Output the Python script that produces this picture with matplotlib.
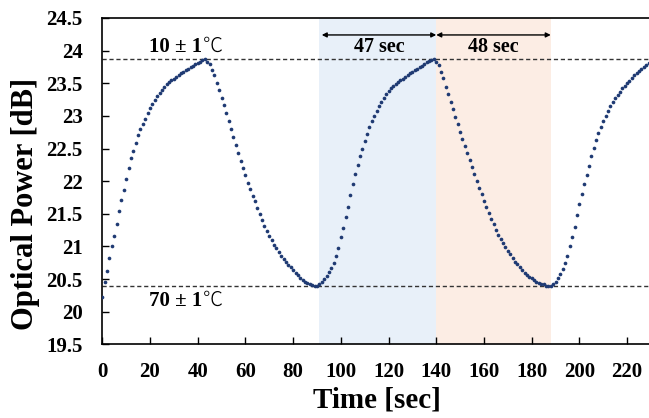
import matplotlib
matplotlib.use("Agg")
import matplotlib.pyplot as plt

# ---- data (1 s sampling) ----
time_s = list(range(0, 230))
power_db = [
    # 0-43 rising
    20.23, 20.45, 20.63, 20.82, 21.00, 21.16, 21.34, 21.54, 21.71, 21.87,
    22.03, 22.20, 22.35, 22.46, 22.59, 22.71, 22.80, 22.88, 22.96, 23.05,
    23.12, 23.18, 23.25, 23.30, 23.35, 23.40, 23.45, 23.49, 23.52, 23.55,
    23.57, 23.60, 23.62, 23.65, 23.67, 23.70, 23.72, 23.75, 23.77, 23.79,
    23.81, 23.83, 23.85, 23.87,
    # 44-90 falling
    23.83, 23.79, 23.71, 23.62, 23.51, 23.40, 23.28, 23.16, 23.04, 22.92,
    22.80, 22.67, 22.55, 22.43, 22.31, 22.20, 22.09, 21.98, 21.88, 21.78,
    21.69, 21.59, 21.50, 21.41, 21.32, 21.24, 21.16, 21.10, 21.03, 20.97,
    20.91, 20.86, 20.81, 20.77, 20.72, 20.68, 20.64, 20.60, 20.56, 20.52,
    20.49, 20.46, 20.44, 20.42, 20.41, 20.40, 20.39,
    # 91-139 rising
    20.42, 20.46, 20.50, 20.55, 20.61, 20.67, 20.75, 20.86, 20.97, 21.14,
    21.28, 21.45, 21.61, 21.79, 21.96, 22.11, 22.25, 22.38, 22.49, 22.61,
    22.72, 22.83, 22.92, 23.00, 23.07, 23.15, 23.22, 23.28, 23.34, 23.38,
    23.42, 23.46, 23.49, 23.52, 23.55, 23.57, 23.60, 23.62, 23.65, 23.67,
    23.70, 23.72, 23.75, 23.77, 23.80, 23.82, 23.84, 23.86, 23.87,
    # 140-188 falling
    23.83, 23.78, 23.68, 23.58, 23.45, 23.33, 23.21, 23.10, 22.98, 22.87,
    22.76, 22.65, 22.54, 22.43, 22.33, 22.22, 22.11, 22.01, 21.90, 21.80,
    21.70, 21.60, 21.51, 21.42, 21.34, 21.26, 21.18, 21.11, 21.05, 20.99,
    20.93, 20.88, 20.82, 20.77, 20.73, 20.68, 20.64, 20.60, 20.57, 20.54,
    20.51, 20.48, 20.46, 20.44, 20.43, 20.42, 20.40, 20.39, 20.39,
    # 189-229 rising
    20.42, 20.46, 20.51, 20.58, 20.65, 20.74, 20.86, 21.00, 21.15, 21.30,
    21.48, 21.65, 21.80, 21.95, 22.10, 22.24, 22.38, 22.51, 22.63, 22.74,
    22.83, 22.92, 23.00, 23.08, 23.15, 23.21, 23.27, 23.32, 23.37, 23.42,
    23.46, 23.50, 23.54, 23.58, 23.62, 23.66, 23.69, 23.72, 23.75, 23.78,
    23.81,
]

level_high = 23.87
level_low = 20.39
label_high = "10 ± 1"
label_low = "70 ± 1"
unit_sign = "℃"
span_blue = (91, 140)
span_orange = (140, 188)
span_labels = ["47 sec", "48 sec"]
x_ticks = list(range(0, 221, 20))
y_ticks = [19.5, 20, 20.5, 21, 21.5, 22, 22.5, 23, 23.5, 24, 24.5]
y_ticklabels = ["19.5", "20", "20.5", "21", "21.5", "22", "22.5", "23", "23.5", "24", "24.5"]

serif = ["Liberation Serif", "Noto Sans CJK JP", "DejaVu Serif"]
plt.rcParams['font.family'] = serif

fig = plt.figure(figsize=(6.49, 4.18), dpi=100)
ax = fig.add_axes([0.1576, 0.176, 0.8454, 0.781])

ax.axvspan(*span_blue, color="#E8F0F9", lw=0, zorder=0)
ax.axvspan(*span_orange, color="#FCEDE4", lw=0, zorder=0)

ax.axhline(level_high, color="#333333", lw=1.0, ls=(0, (3, 2)), zorder=1)
ax.axhline(level_low, color="#333333", lw=1.0, ls=(0, (3, 2)), zorder=1)

ax.scatter(time_s, power_db, s=7, color="#1F3A73", linewidths=0, zorder=3)

ax.set_xlim(0, 230)
ax.set_ylim(19.5, 24.5)
ax.set_xticks(x_ticks)
ax.set_yticks(y_ticks)
ax.set_yticklabels(y_ticklabels)
ax.tick_params(direction="in", length=5, width=1, labelsize=15)
ax.tick_params(axis="x", pad=13)
ax.tick_params(axis="y", pad=14)
for lab in ax.get_xticklabels() + ax.get_yticklabels():
    lab.set_fontweight("bold")
for s in ["left", "bottom", "top", "right"]:
    ax.spines[s].set_linewidth(1.2)

ax.set_xlabel("Time [sec]", fontsize=21, fontweight="bold")
ax.set_ylabel("Optical Power [dB]", fontsize=22, fontweight="bold")
ax.xaxis.set_label_coords(0.5, -0.13)
ax.yaxis.set_label_coords(-0.114, 0.43)

for y, lab in [(24.06, label_high), (20.16, label_low)]:
    ax.text(42.0, y, lab, fontsize=15, fontweight="bold", ha="right", va="center")
    ax.text(42.0, y + 0.01, unit_sign, fontsize=14.5, fontweight="light",
            family=["Noto Sans CJK JP"], ha="left", va="center")

arrow_y = 24.24
for (x0, x1), lab in zip([(92, span_blue[1]), (span_orange[0], span_orange[1])], span_labels):
    ax.annotate("", xy=(x1, arrow_y), xytext=(x0, arrow_y),
                arrowprops=dict(arrowstyle="<|-|>", color="black", lw=1.0,
                                mutation_scale=7, shrinkA=0, shrinkB=0))
    ax.text((x0 + x1) / 2, 24.06, lab, fontsize=14.5, fontweight="bold",
            ha="center", va="center")

fig.savefig("out.png", dpi=100)
